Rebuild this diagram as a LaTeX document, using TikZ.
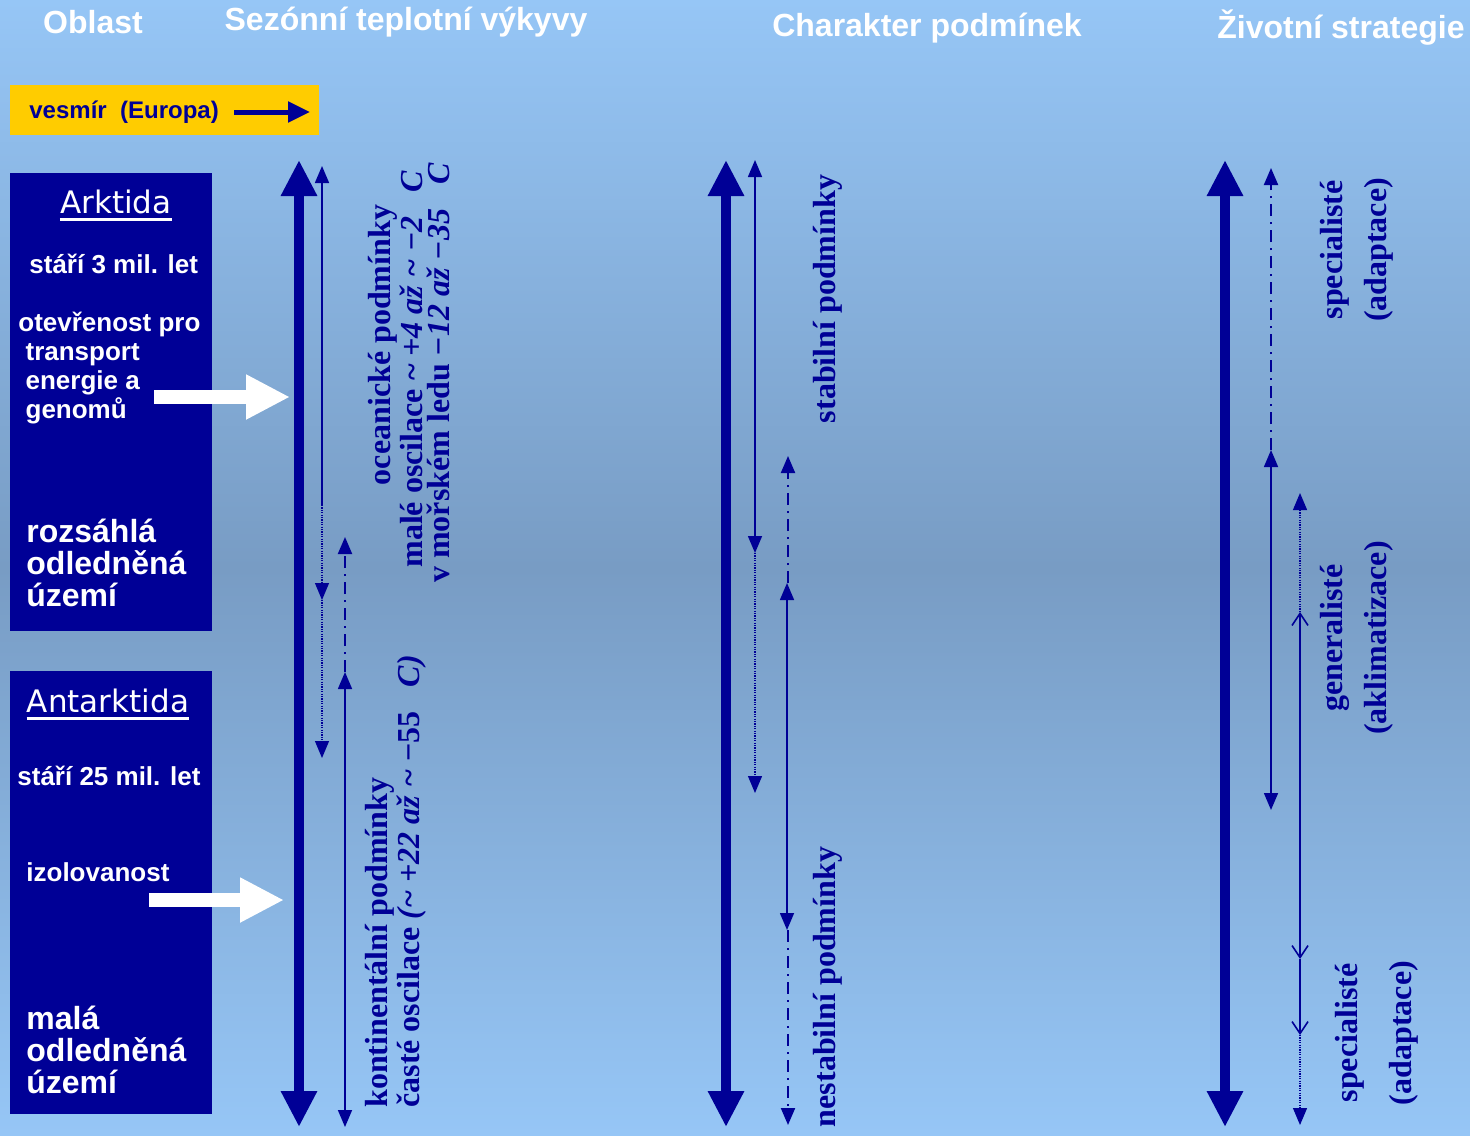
\documentclass[tikz,border=0pt]{standalone}
\usepackage{fontspec}
\setmainfont{Liberation Serif}
\setsansfont{Liberation Sans}
\newfontfamily\handfont{DejaVu Sans}
\usepackage{tikz}
\usetikzlibrary{arrows.meta,positioning,calc}
\definecolor{cNavy}{RGB}{0,0,150}
\definecolor{cGold}{RGB}{255,204,0}
\definecolor{cSkyTop}{RGB}{150,198,246}
\definecolor{cSkyMid}{RGB}{120,156,196}

\begin{document}
\begin{tikzpicture}[x=0.5pt,y=-0.5pt,
  >={Triangle[width=7pt,length=8.5pt]},
  head/.style={font=\sffamily\bfseries\fontsize{16}{18}\selectfont,text=white,inner sep=0pt},
  boxtxt/.style={font=\sffamily\bfseries\fontsize{13}{14.5}\selectfont,text=white,inner sep=0pt,anchor=west,align=left},
  bigtxt/.style={font=\sffamily\bfseries\fontsize{16}{16}\selectfont,text=white,inner sep=0pt,anchor=west,align=left},
  areatxt/.style={font=\handfont\fontsize{15.5}{16}\selectfont,text=white,inner sep=0pt},
  rottxt/.style={rotate=90,font=\bfseries\fontsize{16}{13.5}\selectfont,text=cNavy,inner sep=0pt},
  axis/.style={cNavy,line width=5pt,{Triangle[width=17pt,length=18pt]}-{Triangle[width=17pt,length=18pt]}},
  span/.style={cNavy,line width=0.8pt},
  dashdot/.style={line width=1pt,dash pattern=on 6pt off 3pt on 1pt off 3pt},
  dots/.style={line width=0.6pt,dash pattern=on 0.6pt off 0.6pt},
  white arrow/.style={white,line width=7pt,-{Triangle[width=21pt,length=22pt]}}
]
  \useasboundingbox (0,0) rectangle (1470,1135);
  \shade[top color=cSkyTop,bottom color=cSkyTop,middle color=cSkyMid] (0,0) rectangle (1470,1135);

  % column headings
  \node[head] (hArea) at (93,22) {Oblast};
  \node[head] (hTemp) at (406,22) {Sezónní teplotní výkyvy};
  \node[head] (hCond) at (927,28) {Charakter podmínek};
  \node[head] (hLife) at (1341,28) {Životní strategie};

  % reference frame
  \fill[cGold] (10,85) rectangle (319,135);
  \node[boxtxt,font=\sffamily\bfseries\fontsize{12}{14}\selectfont,text=cNavy] (europa) at (29,112) {vesmír\ \ (Europa)};
  \coordinate (eTip) at (310,112);
  \draw[cNavy,line width=2.5pt,-{Triangle[width=10pt,length=11pt]}] ($(europa.east)+(15,0)$) -- (eTip);

  % Arctic
  \fill[cNavy] (10,173) rectangle (212,631);
  \node[areatxt] (arc) at (116,202) {Arktida};
  \draw[white,line width=1.3pt] ([yshift=-2.5pt]arc.south west) -- ([yshift=-2.5pt]arc.south east);
  \node[boxtxt] (arcAge) at (29,264) {stáří 3 mil. let};
  \node[boxtxt,anchor=north west] (arcOpen) at (18,312) {otevřenost pro\\\ transport\\\ energie a\\\ genomů};
  \node[bigtxt,anchor=north west] (arcIce) at (26,519) {rozsáhlá\\odledněná\\území};
  \coordinate (arcTip) at (290,397);
  \draw[white arrow] (154,397) -- (arcTip);

  % Antarctic
  \fill[cNavy] (10,671) rectangle (212,1114);
  \node[areatxt] (ant) at (108,701) {Antarktida};
  \draw[white,line width=1.3pt] ([yshift=-2.5pt]ant.south west) -- ([yshift=-2.5pt]ant.south east);
  \node[boxtxt] (antAge) at (17,776) {stáří 25 mil. let};
  \node[boxtxt] (antIso) at (26,872) {izolovanost};
  \node[bigtxt,anchor=north west] (antIce) at (26,1006) {malá\\odledněná\\území};
  \coordinate (antTip) at (284,900);
  \draw[white arrow] (149,900) -- (antTip);

  % seasonal temperature swings
  \draw[axis] (299,160) -- (299,1127);
  \draw[span,<-] (322,166) -- (322,505);
  \draw[span,dots,->] (322,505) -- (322,600);
  \draw[span,dots,->] (322,600) -- (322,758);
  \draw[span,dashdot,->] (345,672) -- (345,537);
  \draw[span,<->] (345,672) -- (345,1127);
  \node[rottxt] (ocean1) at (383,345) {oceanické podmínky};
  \node[rottxt] (ocean2) at (411,369) {malé oscilace \textasciitilde\ \textit{+4 až \textasciitilde\ −2\ \ \ C}};
  \node[rottxt] (ocean3) at (438,373) {v mořském ledu \textit{−12 až −35\ \ \ C}};
  \node[rottxt,anchor=west,align=left] (cont) at (396,1108) {kontinentální podmínky\\časté oscilace \textit{(\textasciitilde\ +22 až \textasciitilde\ }−55\ \ \ \textit{C)}};

  % character of conditions
  \draw[axis] (726,160) -- (726,1127);
  \draw[span,<->] (755,160) -- (755,553);
  \draw[span,dots,->] (755,553) -- (755,793);
  \draw[span,dashdot,->] (788,583) -- (788,456);
  \draw[span,<->] (787,583) -- (787,930);
  \draw[span,dashdot,->] (788,930) -- (788,1125);
  \node[rottxt] (stab) at (828,299) {stabilní podmínky};
  \node[rottxt] (unstab) at (828,987) {nestabilní podmínky};

  % life strategies
  \draw[axis] (1225,160) -- (1225,1127);
  \draw[span,dashdot,->] (1271,450) -- (1271,168);
  \draw[span,<->] (1271,450) -- (1271,810);
  \draw[span,dots,->] (1300,612) -- (1300,493);
  \draw[span,{Straight Barb[width=8pt,length=6pt]}-{Straight Barb[width=8pt,length=6pt]}] (1300,612) -- (1300,959);
  \draw[span,-{Straight Barb[width=8pt,length=6pt]}] (1300,959) -- (1300,1035);
  \draw[span,dots,->] (1300,1035) -- (1300,1125);
  \node[rottxt,align=center] (spec1) at (1357,250) {specialisté\\[6.5pt](adaptace)};
  \node[rottxt,align=center] (gen) at (1357,638) {generalisté\\[6.5pt](aklimatizace)};
  \node[rottxt,align=center] (spec2) at (1377,1033) {specialisté\\[11.5pt](adaptace)};
\end{tikzpicture}
\end{document}
